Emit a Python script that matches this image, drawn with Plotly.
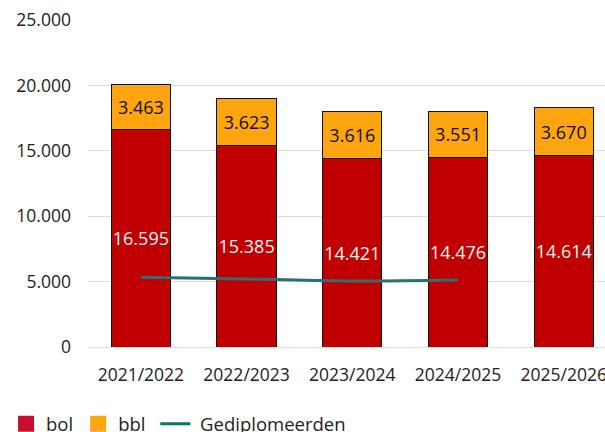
import plotly.graph_objects as go

years = ["2021/2022", "2022/2023", "2023/2024", "2024/2025", "2025/2026"]
bol = [16595, 15385, 14421, 14476, 14614]
bbl = [3463, 3623, 3616, 3551, 3670]
gediplomeerden = [5330, 5200, 5050, 5120, None]

FONT = "Open Sans"
fig = go.Figure()
fig.add_trace(go.Bar(x=years, y=bol, name="bol", marker=dict(color="#c00000", line=dict(color="#111", width=1)),
                     texttemplate="%{y:,.0f}", textposition="inside", insidetextanchor="middle", textangle=0,
                     textfont=dict(color="#f4f4f4", size=18, family=FONT), showlegend=False, hoverinfo="skip"))
fig.add_trace(go.Bar(x=years, y=bbl, name="bbl", marker=dict(color="#ffa50f", line=dict(color="#111", width=1)),
                     texttemplate="%{y:,.0f}", textposition="inside", insidetextanchor="middle", textangle=0,
                     textfont=dict(color="#111", size=18, family=FONT), showlegend=False, hoverinfo="skip"))
fig.add_trace(go.Scatter(x=years, y=gediplomeerden, mode="lines", line=dict(color="#2b6f6f", width=3, shape="spline"),
                         showlegend=False, hoverinfo="skip"))
# legend entries
fig.add_trace(go.Scatter(x=[None], y=[None], mode="markers", name="bol",
                         marker=dict(color="#c8102e", symbol="square", size=18)))
fig.add_trace(go.Scatter(x=[None], y=[None], mode="markers", name="bbl\u00a0",
                         marker=dict(color="#ffa50f", symbol="square", size=18)))
fig.add_trace(go.Scatter(x=[None], y=[None], mode="lines", name="\u00a0Gediplomeerden",
                         line=dict(color="#007a5e", width=3)))

fig.update_layout(
    width=605, height=432,
    barmode="stack", bargap=0.44,
    separators=",.",
    margin=dict(l=88, r=0, t=20, b=85),
    paper_bgcolor="white", plot_bgcolor="white",
    font=dict(family=FONT, size=18, color="#222"),
    uniformtext=dict(mode="show", minsize=18),
    xaxis=dict(type="category", range=[-0.5, 4.39], showgrid=False, showline=False, ticks="",
               ticklabelstandoff=15, tickfont=dict(size=17.5, color="#222"), automargin=False),
    yaxis=dict(range=[0, 25000], dtick=5000, tickformat=",.0f", gridcolor="#dddddd", gridwidth=1,
               zeroline=True, zerolinecolor="#dddddd", zerolinewidth=1, showline=False,
               ticks="", ticklabelstandoff=16, tickfont=dict(size=17.5, color="#222"), automargin=False),
    legend=dict(orientation="h", xref="container", yref="container", x=0.01, xanchor="left",
                y=0.062, yanchor="top",
                font=dict(size=18.5, color="#222"), traceorder="normal", itemwidth=30,
                tracegroupgap=0),
)
fig.write_html("out.html", config={"displayModeBar": False},
               post_script="document.body.style.margin='0';document.body.style.overflow='hidden';")
